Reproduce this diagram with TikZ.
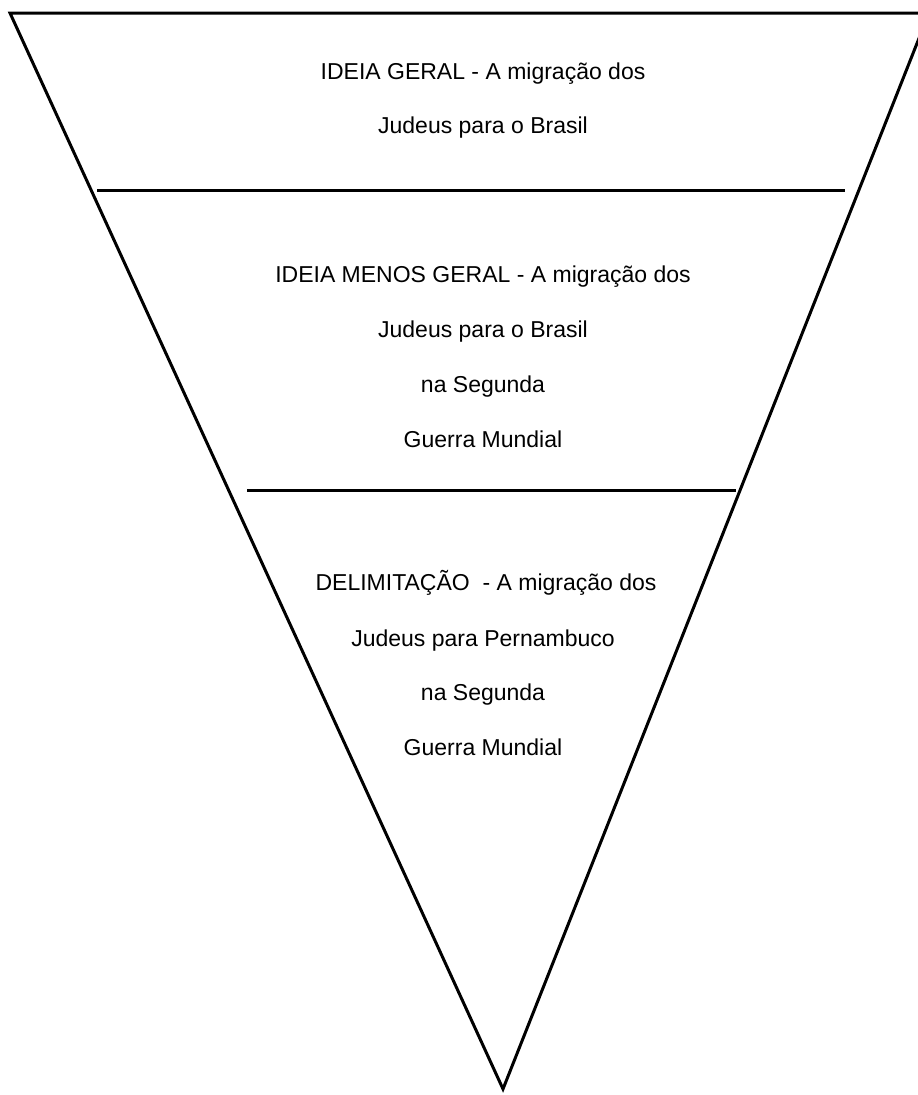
\documentclass[tikz,border=0pt]{standalone}
\usepackage{fontspec}
\setmainfont{Liberation Sans}
\usetikzlibrary{positioning}

\begin{document}
\begin{tikzpicture}[x=1pt,y=-1pt,line width=3pt,
  funneltext/.style={font=\fontsize{23}{28}\selectfont,anchor=base,inner sep=0pt}]

\useasboundingbox (0,0) rectangle (918,1095);
\clip (0,0) rectangle (918,1095);

% Funnel outline
\coordinate (topleft) at (10,13);
\coordinate (topright) at (929,13);
\coordinate (tip) at (503,1089);
\draw[line join=miter] (topleft) -- (topright) -- (tip) -- cycle;

% Dividers
\coordinate (divAl) at (97,190);
\coordinate (divAr) at (845,190);
\coordinate (divBl) at (247,490);
\coordinate (divBr) at (736,490);
\draw (divAl) -- (divAr);
\draw (divBl) -- (divBr);

% --- Top section ---
\node[funneltext] (geralA) at (483,79) {IDEIA GERAL - A migração dos};
\node[funneltext] (geralB) at (483,133) {Judeus para o Brasil};

% --- Middle section ---
\node[funneltext] (menosA) at (483,282) {IDEIA MENOS GERAL - A migração dos};
\node[funneltext] (menosB) at (483,337) {Judeus para o Brasil};
\node[funneltext] (menosC) at (483,392) {na Segunda};
\node[funneltext] (menosD) at (483,447) {Guerra Mundial};

% --- Bottom section ---
\node[funneltext] (delimA) at (486,590) {DELIMITAÇÃO\ \ - A migração dos};
\node[funneltext] (delimB) at (483,646) {Judeus para Pernambuco};
\node[funneltext] (delimC) at (483,700) {na Segunda};
\node[funneltext] (delimD) at (483,755) {Guerra Mundial};

\end{tikzpicture}
\end{document}
